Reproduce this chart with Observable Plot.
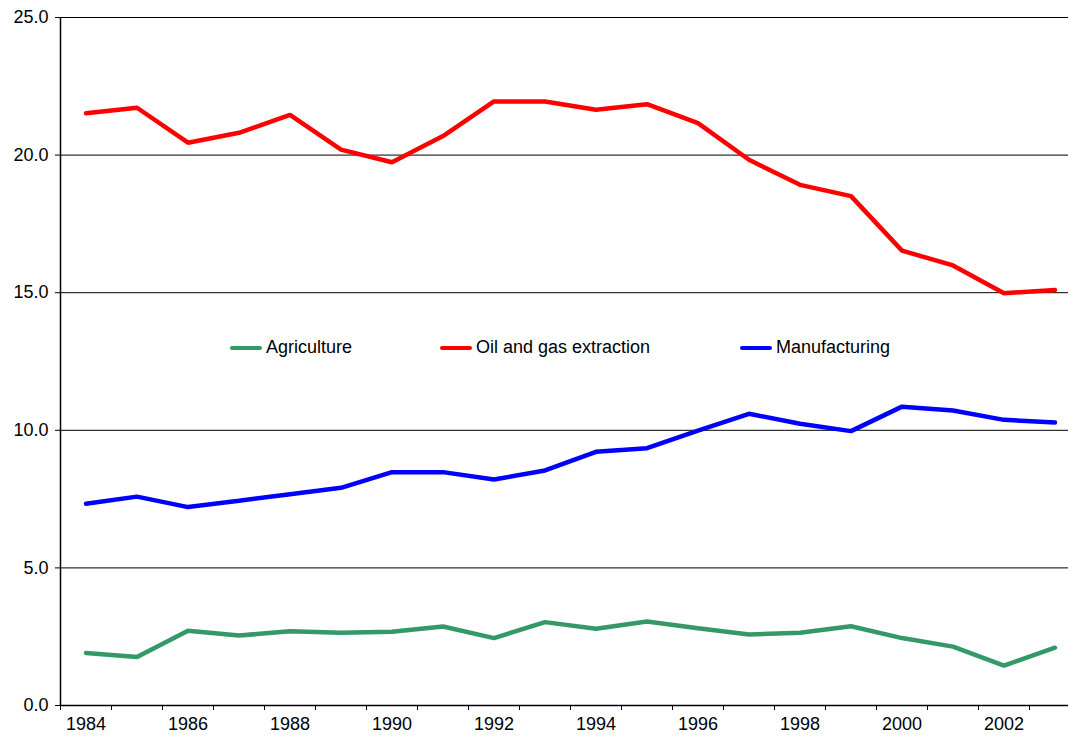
<!DOCTYPE html>
<html>
<head>
<meta charset="utf-8">
<script src="https://cdn.jsdelivr.net/npm/d3@7"></script>
<script src="https://cdn.jsdelivr.net/npm/@observablehq/plot@0.6"></script>
<style>
  html, body { margin: 0; padding: 0; background: #fff; }
  #wrap { position: relative; width: 1068px; height: 744px; overflow: hidden; font-family: "Liberation Sans", Arial, sans-serif; }
  .leg { position: absolute; top: 337px; display: flex; align-items: center; font-size: 18px; color: #000; white-space: nowrap; }
  .sw { display: inline-block; width: 32px; height: 4px; border-radius: 2px; margin-right: 4px; }
</style>
</head>
<body>
<div id="wrap"></div>
<script>
const years = [1984,1985,1986,1987,1988,1989,1990,1991,1992,1993,1994,1995,1996,1997,1998,1999,2000,2001,2002,2003];
const agriculture = [1.91,1.76,2.72,2.54,2.70,2.64,2.68,2.87,2.45,3.03,2.79,3.05,2.81,2.58,2.64,2.88,2.45,2.14,1.45,2.10];
const oilGas = [21.52,21.72,20.45,20.81,21.46,20.20,19.74,20.69,21.95,21.95,21.65,21.85,21.16,19.83,18.92,18.51,16.53,15.99,14.98,15.10];
const manufacturing = [7.33,7.59,7.21,7.44,7.68,7.91,8.48,8.48,8.21,8.54,9.22,9.35,9.99,10.60,10.24,9.97,10.86,10.72,10.38,10.28];
const seriesNames = ["Agriculture", "Oil and gas extraction", "Manufacturing"];
const seriesColors = ["#339966", "#ff0000", "#0000ff"];
const yTicks = [0, 5, 10, 15, 20, 25];
const xLabelYears = [1984,1986,1988,1990,1992,1994,1996,1998,2000,2002];

const seriesValues = [agriculture, oilGas, manufacturing];
const data = [];
seriesNames.forEach((name, i) => {
  years.forEach((yr, j) => data.push({series: name, year: yr, value: seriesValues[i][j]}));
});
const boundaries = years.map(y => y - 0.5).concat([years[years.length - 1] + 0.5]);

const chart = Plot.plot({
  width: 1068,
  height: 744,
  marginLeft: 60,
  marginRight: 0,
  marginTop: 17,
  marginBottom: 39,
  style: {fontFamily: '"Liberation Sans", Arial, sans-serif', fontSize: "18px", color: "#000", background: "#fff"},
  x: {domain: [years[0] - 0.5, years[years.length - 1] + 0.5], range: [60, 1080]},
  y: {domain: [0, 25]},
  color: {domain: seriesNames, range: seriesColors},
  marks: [
    Plot.gridY(yTicks.filter(d => d > 0), {stroke: "#000", strokeOpacity: 1, strokeWidth: 1}),
    Plot.axisY({ticks: yTicks, tickFormat: d => d.toFixed(1), tickSize: 5, tickPadding: 7, label: null, fontSize: 18}),
    Plot.axisX({ticks: boundaries, tickFormat: () => "", tickSize: 5, label: null}),
    Plot.axisX({ticks: xLabelYears, tickFormat: d => String(d), tickSize: 0, tickPadding: 12, label: null, fontSize: 18}),
    Plot.line(data, {x: "year", y: "value", z: "series", stroke: "series", strokeWidth: 4.5, strokeLinejoin: "miter", strokeLinecap: "round"}),
    Plot.ruleY([0], {stroke: "#000", strokeWidth: 1.5}),
    Plot.ruleX([years[0] - 0.5], {stroke: "#000", strokeWidth: 1.5})
  ]
});
const wrap = document.getElementById("wrap");
wrap.appendChild(chart);

const legendLefts = [230, 440, 740];
seriesNames.forEach((name, i) => {
  const d = document.createElement("div");
  d.className = "leg";
  d.style.left = legendLefts[i] + "px";
  const sw = document.createElement("span");
  sw.className = "sw";
  sw.style.background = seriesColors[i];
  d.appendChild(sw);
  const t = document.createElement("span");
  t.textContent = name;
  d.appendChild(t);
  wrap.appendChild(d);
});
</script>
</body>
</html>
